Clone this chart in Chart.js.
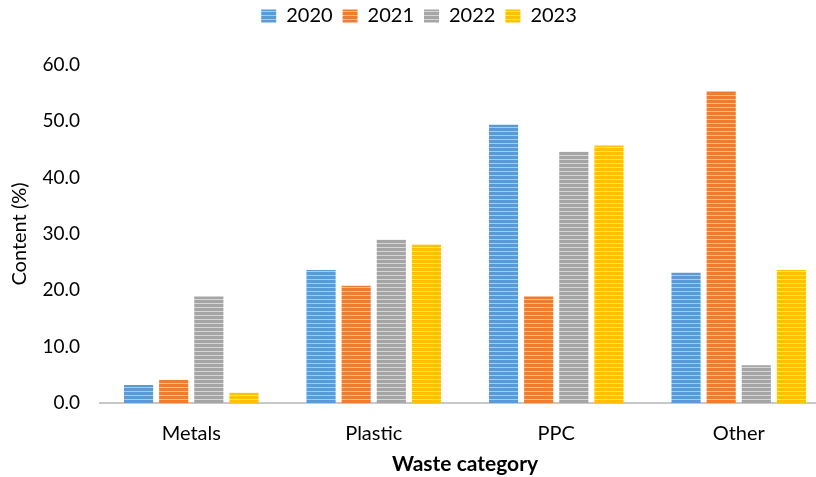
<!DOCTYPE html>
<html>
<head>
<meta charset="utf-8">
<script src="https://cdn.jsdelivr.net/npm/chart.js@4"></script>
<style>
  html, body { margin: 0; padding: 0; background: #fff; overflow: hidden; }
  #wrap { width: 830px; height: 477px; }
</style>
</head>
<body>
<div id="wrap"><canvas id="myChart"></canvas></div>
<script>
// waste composition by year
var categories = ['Metals', 'Plastic', 'PPC', 'Other'];
var years = ['2020', '2021', '2022', '2023'];
var data2020 = [3.2, 23.6, 49.4, 23.1];
var data2021 = [4.1, 20.8, 18.9, 55.4];
var data2022 = [18.9, 29.0, 44.6, 6.7];
var data2023 = [1.8, 28.1, 45.7, 23.6];
var yTicks = [0, 10, 20, 30, 40, 50, 60];

// horizontal stripe fill like the excel pattern
function stripes(base, light) {
    var c = document.createElement('canvas');
    c.width = 4;
    c.height = 4;
    var g = c.getContext('2d');
    g.fillStyle = base;
    g.fillRect(0, 0, 4, 4);
    g.fillStyle = light;
    g.fillRect(0, 3, 4, 1);
    return g.createPattern(c, 'repeat');
}

// push the plot down a bit below the legend
var legendGap = {
    id: 'legendGap',
    beforeInit: function (chart) {
        var fit = chart.legend.fit;
        chart.legend.fit = function () {
            fit.bind(chart.legend)();
            this.height += 29;
        };
    }
};

var ctx = document.getElementById('myChart').getContext('2d');
var fills = [
    stripes('#5B9BD5', '#A9CBEB'),
    stripes('#ED7D31', '#F6BE98'),
    stripes('#A5A5A5', '#D6D6D6'),
    stripes('#FFC000', '#FFE080')
];
var series = [data2020, data2021, data2022, data2023];

var chart = new Chart(ctx, {
    type: 'bar',
    data: {
        labels: categories,
        datasets: series.map(function (d, i) {
            return {
                label: years[i],
                data: d,
                backgroundColor: fills[i],
                borderWidth: 0,
                categoryPercentage: 0.77,
                barPercentage: 0.83
            };
        })
    },
    plugins: [legendGap],
    options: {
        responsive: true,
        maintainAspectRatio: false,
        animation: false,
        layout: { padding: { left: 8, right: 0, top: -4, bottom: 0 } },
        plugins: {
            legend: {
                position: 'top',
                labels: {
                    boxWidth: 15,
                    boxHeight: 13,
                    padding: 10,
                    color: '#000',
                    font: { family: 'Lato', size: 20 }
                }
            },
            tooltip: { enabled: false }
        },
        scales: {
            x: {
                afterFit: function (axis) { axis.height = 74; },
                grid: { display: false, drawTicks: false },
                border: { color: '#C8C8C8', width: 2 },
                ticks: { color: '#000', padding: 19, font: { family: 'Lato', size: 20 } },
                title: {
                    display: true,
                    text: 'Waste category',
                    color: '#000',
                    padding: { top: 8, bottom: 0 },
                    font: { family: 'Lato', size: 21, weight: 'bold' }
                }
            },
            y: {
                min: 0,
                max: 60,
                afterFit: function (axis) { axis.width = 92; },
                afterBuildTicks: function (axis) {
                    axis.ticks = yTicks.map(function (v) { return { value: v }; });
                },
                grid: { display: false, drawTicks: false },
                border: { display: false },
                ticks: {
                    color: '#000',
                    padding: 20,
                    font: { family: 'Lato', size: 19 },
                    callback: function (v) { return v.toFixed(1); }
                },
                title: {
                    display: true,
                    text: 'Content (%)',
                    color: '#000',
                    padding: { top: 0, bottom: 4 },
                    font: { family: 'Lato', size: 20 }
                }
            }
        }
    }
});
</script>
</body>
</html>
